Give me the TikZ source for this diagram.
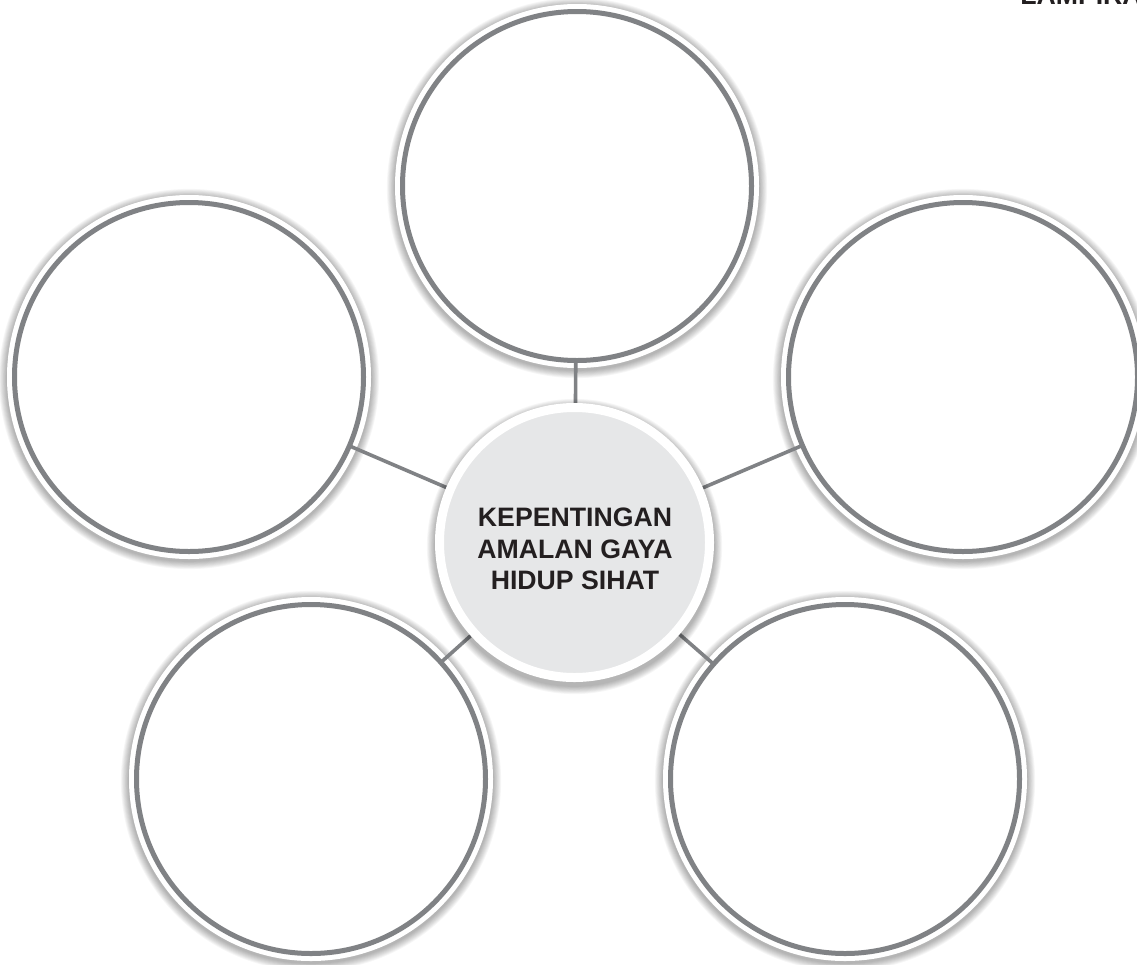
\documentclass[tikz,border=0pt]{standalone}
\usepackage{fontspec}
\setmainfont{Liberation Sans}
\pgfdeclarelayer{paper}
\pgfdeclarelayer{halo}
\pgfdeclarelayer{links}
\pgfsetlayers{paper,halo,links,main}
\definecolor{ringgray}{RGB}{128,130,133}
\definecolor{hubfill}{RGB}{230,231,232}
\definecolor{inktext}{RGB}{35,31,32}
\begin{document}
\begin{tikzpicture}[x=0.75pt,y=-0.75pt,
  ring/.style={circle, draw=ringgray, line width=3.75pt, fill=white,
    minimum size=261.75pt, inner sep=0pt, outer sep=0pt},
  halo/.style={circle, fill=white, minimum size=273pt, inner sep=0pt},
  hub/.style={circle, fill=hubfill, draw=white, line width=6.75pt,
    minimum size=202.5pt, inner sep=0pt},
  softshade/.style={fill=black, opacity=0.035},
  link/.style={draw=ringgray, line width=2.7pt},
  bold/.style={font=\bfseries\fontsize{20}{23.6}\selectfont, text=inktext, inner sep=0pt}]
\useasboundingbox (0,0) rectangle (1137,964);
\begin{pgfonlayer}{paper}
\fill[white] (0,0) rectangle (1137,964);
\end{pgfonlayer}

\node[ring] (top)   at (577,186) {};
\node[ring] (left)  at (189,377) {};
\node[ring] (right) at (963,377) {};
\node[ring] (bl)    at (311,779) {};
\node[ring] (br)    at (845,779) {};

% hub shadow
\foreach \k in {1,...,9}
  \fill[softshade] ([yshift=-3pt]574.5,542.5) circle[radius={(139.5+\k*0.9)*0.75pt}];
\node[hub] (hub) at (574.5,542.5) {};
\node[bold, align=center] (title) at (575,549) {KEPENTINGAN\\AMALAN GAYA\\HIDUP SIHAT};

\node[bold, anchor=base west] (tag) at (1020,4) {LAMPIRAN};

\begin{pgfonlayer}{links}
  \draw[link] (hub) -- (top);
  \draw[link] (hub) -- (left);
  \draw[link] (hub) -- (right);
  \draw[link] (hub) -- (bl);
  \draw[link] (hub) -- (br);
\end{pgfonlayer}

\begin{pgfonlayer}{halo}
  \foreach \n in {top,left,right,bl,br}{
    \foreach \k in {1,...,9}
      \fill[softshade] ([yshift=-1.5pt]\n.center) circle[radius={(182+\k*0.9)*0.75pt}];
    \node[halo] (h-\n) at (\n.center) {};
  }
\end{pgfonlayer}
\end{tikzpicture}
\end{document}
